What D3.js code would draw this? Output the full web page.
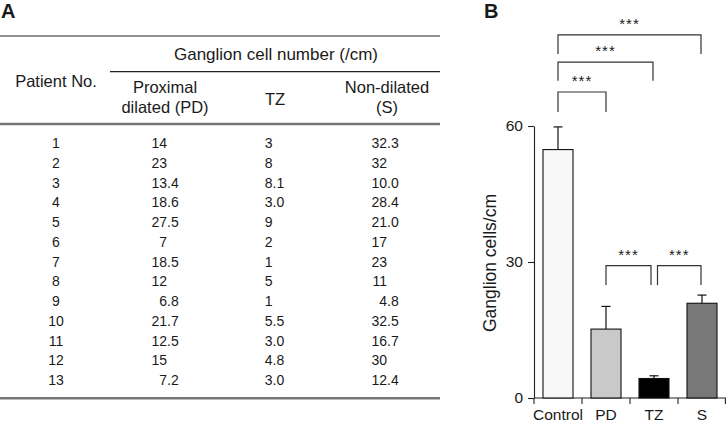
<!DOCTYPE html>
<html>
<head>
<meta charset="utf-8">
<script src="https://cdn.jsdelivr.net/npm/d3@7"></script>
<style>
  html, body { margin: 0; padding: 0; background: #fff; }
  svg { display: block; }
  text { font-family: "Liberation Sans", Arial, sans-serif; fill: #1a1a1a; }
</style>
</head>
<body>
<svg id="chart" width="726" height="422"></svg>
<script>
// ---------- Data: table (panel A) ----------
const patientNos = ["1","2","3","4","5","6","7","8","9","10","11","12","13"];
const pdValues   = ["14","23","13.4","18.6","27.5","7","18.5","12","6.8","21.7","12.5","15","7.2"];
const tzValues   = ["3","8","8.1","3.0","9","2","1","5","1","5.5","3.0","4.8","3.0"];
const sValues    = ["32.3","32","10.0","28.4","21.0","17","23","11","4.8","32.5","16.7","30","12.4"];
const tableTitle = "Ganglion cell number (/cm)";
const colHeaders = [["Proximal","dilated (PD)"],["TZ"],["Non-dilated","(S)"]];

// ---------- Data: bar chart (panel B) ----------
const groups   = ["Control","PD","TZ","S"];
const means    = [54.8, 15.2, 4.3, 20.9];
const errors   = [5.0, 5.0, 0.6, 1.8];
const barFills = ["#f8f8f8","#c9c9c9","#000000","#787878"];
const yTicks   = [0, 30, 60];
const comparisons = [
  ["Control","PD","***"],
  ["Control","TZ","***"],
  ["Control","S","***"],
  ["PD","TZ","***"],
  ["TZ","S","***"]
];

const svg = d3.select("#chart");

// ================= Panel A : table =================
svg.append("text").attr("x", 1).attr("y", 18)
  .style("font-size", "20px").style("font-weight", "bold").text("A");

const tA = svg.append("g");
const hdrFont = "17px";
tA.append("line").attr("x1", 0).attr("x2", 440).attr("y1", 36).attr("y2", 36)
  .attr("stroke", "#222").attr("stroke-width", 1.2);
tA.append("text").attr("x", 276).attr("y", 60).attr("text-anchor", "middle")
  .style("font-size", hdrFont).text(tableTitle);
tA.append("line").attr("x1", 110).attr("x2", 440).attr("y1", 71.7).attr("y2", 71.7)
  .attr("stroke", "#222").attr("stroke-width", 1.2);
tA.append("text").attr("x", 56).attr("y", 87).attr("text-anchor", "middle")
  .style("font-size", "16.5px").text("Patient No.");

const colCenters = [165, 275, 387];
colHeaders.forEach((lines, i) => {
  const startY = lines.length === 1 ? 105 : 93.3;
  lines.forEach((ln, j) => {
    tA.append("text").attr("x", colCenters[i]).attr("y", startY + j * 20)
      .attr("text-anchor", "middle").style("font-size", "16.5px").text(ln);
  });
});
tA.append("line").attr("x1", 0).attr("x2", 440).attr("y1", 124).attr("y2", 124)
  .attr("stroke", "#777").attr("stroke-width", 2.4);
tA.append("line").attr("x1", 0).attr("x2", 440).attr("y1", 398.3).attr("y2", 398.3)
  .attr("stroke", "#777").attr("stroke-width", 2.4);

const rowY = d3.scalePoint().domain(patientNos).range([148.3, 385]);
const cellFont = "14px";
patientNos.forEach(p => {
  tA.append("text").attr("x", 56).attr("y", rowY(p)).attr("text-anchor", "middle")
    .style("font-size", cellFont).text(p);
});
// decimal-aligned columns
function decCol(values, xDec) {
  values.forEach((v, i) => {
    const [ip, fp] = v.split(".");
    const y = rowY(patientNos[i]);
    tA.append("text").attr("x", xDec).attr("y", y).attr("text-anchor", "end")
      .style("font-size", cellFont).text(ip);
    if (fp !== undefined) {
      tA.append("text").attr("x", xDec).attr("y", y).attr("text-anchor", "start")
        .style("font-size", cellFont).text("." + fp);
    }
  });
}
decCol(pdValues, 167);
decCol(tzValues, 272.5);
decCol(sValues, 387);

// ================= Panel B : bar chart =================
svg.append("text").attr("x", 484).attr("y", 18)
  .style("font-size", "20px").style("font-weight", "bold").text("B");

const x0 = 534, x1 = 726, yBase = 398, yTop = 126;
const x = d3.scaleBand().domain(groups).range([x0, x1]).paddingInner(0.375).paddingOuter(0.1875);
const y = d3.scaleLinear().domain([0, 60]).range([yBase, yTop]);
const gB = svg.append("g");

// y axis
const yAxis = d3.axisLeft(y).tickValues(yTicks).tickSize(6).tickSizeOuter(0).tickPadding(5);
const gy = gB.append("g").attr("transform", `translate(${x0},0)`).call(yAxis);
gy.selectAll("text").style("font-size", "15.5px").attr("fill", "#1a1a1a");
gy.selectAll("line,path").attr("stroke", "#222").attr("stroke-width", 1.1);

// x axis (ticks at band boundaries)
gB.append("line").attr("x1", x0).attr("x2", x1).attr("y1", yBase).attr("y2", yBase)
  .attr("stroke", "#222").attr("stroke-width", 1.1);
const boundaries = d3.range(groups.length + 1).map(i => x0 + i * x.step());
gB.selectAll(".xtick").data(boundaries).join("line")
  .attr("x1", d => Math.min(d, x1 - 0.6)).attr("x2", d => Math.min(d, x1 - 0.6))
  .attr("y1", yBase).attr("y2", yBase + 6)
  .attr("stroke", "#222").attr("stroke-width", 1.1);
gB.selectAll(".xlab").data(groups).join("text")
  .attr("x", d => x(d) + x.bandwidth() / 2).attr("y", 420)
  .attr("text-anchor", "middle").style("font-size", "15.5px").text(d => d);

// y label
gB.append("text").attr("transform", "translate(496,263) rotate(-90)")
  .attr("text-anchor", "middle").style("font-size", "17.5px").text("Ganglion cells/cm");

// error bars (upper only)
const capW = 9;
groups.forEach((g, i) => {
  const cx = x(g) + x.bandwidth() / 2;
  gB.append("line").attr("x1", cx).attr("x2", cx)
    .attr("y1", y(means[i])).attr("y2", y(means[i] + errors[i]))
    .attr("stroke", "#111").attr("stroke-width", 1.2);
  gB.append("line").attr("x1", cx - capW / 2).attr("x2", cx + capW / 2)
    .attr("y1", y(means[i] + errors[i])).attr("y2", y(means[i] + errors[i]))
    .attr("stroke", "#111").attr("stroke-width", 1.2);
});

// bars
gB.selectAll(".bar").data(groups).join("rect")
  .attr("x", d => x(d)).attr("width", x.bandwidth())
  .attr("y", (d, i) => y(means[i])).attr("height", (d, i) => yBase - y(means[i]))
  .attr("fill", (d, i) => barFills[i]).attr("stroke", "#111").attr("stroke-width", 1.1);

// significance brackets: [top level, leg bottom] in data units, plus end offsets
const bracketLevels = [[67.5, 63.1], [74.1, 70.0], [80.1, 75.9], [29.2, 24.9], [29.2, 24.9]];
const endOffsets = [[0, 0], [0, -1], [0, -1], [0, -3], [3.5, -1]];
comparisons.forEach(([a, b, lab], i) => {
  const xa = x(a) + x.bandwidth() / 2 + endOffsets[i][0];
  const xb = x(b) + x.bandwidth() / 2 + endOffsets[i][1];
  const [top, bot] = bracketLevels[i];
  gB.append("path")
    .attr("d", `M${xa},${y(bot)}V${y(top)}H${xb}V${y(bot)}`)
    .attr("fill", "none").attr("stroke", "#333").attr("stroke-width", 1.2);
  gB.append("text").attr("x", (xa + xb) / 2).attr("y", y(top) - 6)
    .attr("text-anchor", "middle").style("font-size", "15px").style("letter-spacing", "1px")
    .attr("fill", "#333").text(lab);
});
</script>
</body>
</html>
